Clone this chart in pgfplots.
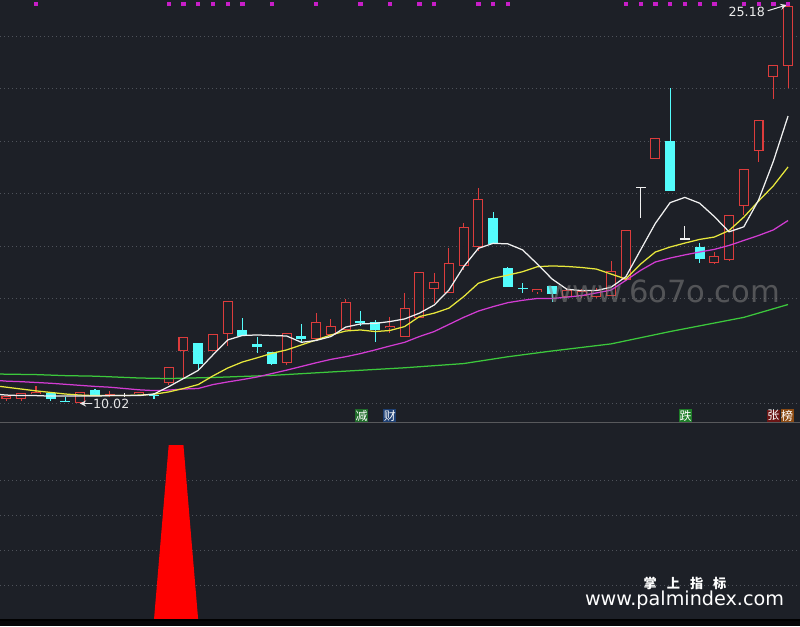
\documentclass[border=0pt]{standalone}
\usepackage{graphicx}
\usepackage{pgfplots}
\pgfplotsset{compat=1.18}
\usepackage{pgfplotstable}
\usepackage{fontspec}
\setmainfont{DejaVu Sans}
\newfontfamily\cjk{Noto Sans CJK SC}

\definecolor{bg}{HTML}{1D2027}
\definecolor{gridc}{HTML}{4E525A}
\definecolor{upc}{HTML}{DC3C3C}
\definecolor{dnc}{HTML}{54FCFC}
\definecolor{ma5}{HTML}{F0F0F0}
\definecolor{ma10}{HTML}{E8E83C}
\definecolor{ma20}{HTML}{D23CD2}
\definecolor{ma60}{HTML}{3CC83C}
\definecolor{dotc}{HTML}{C81EC8}

% up candles (red, hollow)
\pgfplotstableread{
i o h l c
0 10.20 10.31 10.13 10.31
1 10.18 10.42 10.11 10.41
2 10.38 10.69 10.38 10.46
5 10.05 10.45 10.02 10.45
7 10.29 10.50 10.28 10.38
9 10.37 10.46 10.37 10.46
11 10.79 11.40 10.74 11.40
12 12.01 12.54 10.98 12.54
14 12.01 12.66 12.01 12.66
15 12.66 13.92 12.22 13.92
19 11.55 12.69 11.47 12.69
21 12.49 13.46 12.49 13.11
22 12.62 13.24 12.62 12.97
23 12.82 14.00 12.82 13.87
26 12.88 13.33 12.72 12.98
27 12.54 14.22 12.54 13.65
28 13.27 15.02 13.27 15.02
29 14.37 14.98 13.84 14.64
30 14.22 15.93 14.22 15.36
31 15.27 16.88 15.11 16.75
32 15.97 18.24 15.83 17.80
36 14.26 14.38 14.19 14.38
38 14.08 14.42 14.04 14.34
39 14.11 14.38 14.04 14.31
40 14.08 14.42 14.04 14.34
41 14.13 15.45 14.13 15.08
42 14.72 16.62 14.72 16.62
44 19.32 20.12 19.32 20.12
48 15.38 15.78 15.33 15.65
49 15.49 17.20 15.46 17.20
50 17.55 18.95 17.20 18.95
51 19.65 20.82 19.23 20.82
52 22.45 22.91 21.63 22.91
53 22.89 25.18 22.03 25.18
}\upt

% down candles (cyan, filled)
\pgfplotstableread{
i o h l c
3 10.41 10.43 10.13 10.18
6 10.53 10.58 10.31 10.31
13 12.32 12.32 11.30 11.54
16 12.82 13.27 12.60 12.60
17 12.29 12.56 11.93 12.18
18 11.97 11.97 11.50 11.54
20 12.60 13.04 12.31 12.49
25 13.14 13.20 12.37 12.82
33 17.07 17.30 16.10 16.10
34 15.17 15.23 14.47 14.47
37 14.50 14.50 13.90 14.19
45 20.02 22.03 18.13 18.13
47 15.97 16.15 15.38 15.52
}\dnt

% cyan doji
\pgfplotstableread{
i o h l c
4 10.11 10.26 10.11 10.11
10 10.34 10.43 10.18 10.34
24 13.14 13.54 12.98 13.14
35 14.41 14.60 14.22 14.41
}\dct

% white doji
\pgfplotstableread{
i o h l c
8 10.34 10.43 10.27 10.34
43 18.26 18.28 17.07 18.26
46 16.29 16.79 16.27 16.29
}\wht

\pgfplotstableread{
i v
-0.44 10.36
0 10.34
1 10.32
2 10.32
3 10.30
4 10.30
5 10.30
6 10.30
7 10.32
8 10.32
9 10.32
10 10.38
11 10.66
12 10.97
13 11.28
14 11.87
15 12.44
16 12.61
17 12.63
18 12.61
19 12.59
20 12.35
21 12.42
22 12.57
23 12.93
24 13.05
25 13.07
26 13.14
27 13.24
28 13.46
29 13.77
30 14.34
31 15.23
32 15.93
33 16.12
34 16.10
35 15.87
36 15.33
37 14.76
38 14.37
39 14.32
40 14.32
41 14.45
42 14.85
43 15.87
44 16.88
45 17.67
46 17.87
47 17.65
48 17.14
49 16.56
50 16.75
51 17.77
52 19.24
53 20.97
}\mafive

\pgfplotstableread{
i v
-0.44 10.67
0 10.64
1 10.57
2 10.50
3 10.44
4 10.38
5 10.34
6 10.32
7 10.32
8 10.32
9 10.34
10 10.37
11 10.46
12 10.59
13 10.74
14 11.07
15 11.37
16 11.60
17 11.76
18 11.93
19 12.06
20 12.25
21 12.44
22 12.63
23 12.78
24 12.82
25 12.76
26 12.80
27 12.95
28 13.33
29 13.46
30 13.65
31 14.09
32 14.60
33 14.79
34 14.91
35 15.04
36 15.23
37 15.26
38 15.24
39 15.20
40 15.14
41 14.95
42 14.76
43 15.33
44 15.79
45 15.98
46 16.13
47 16.27
48 16.36
49 16.61
50 17.12
51 17.73
52 18.31
53 19.03
}\maten

\pgfplotstableread{
i v
-0.44 10.89
0 10.87
1 10.85
2 10.82
3 10.79
4 10.75
5 10.71
6 10.67
7 10.64
8 10.59
9 10.54
10 10.51
11 10.53
12 10.57
13 10.59
14 10.74
15 10.84
16 10.93
17 11.03
18 11.16
19 11.29
20 11.43
21 11.57
22 11.70
23 11.80
24 11.92
25 12.06
26 12.21
27 12.35
28 12.57
29 12.76
30 13.03
31 13.30
32 13.54
33 13.71
34 13.86
35 13.95
36 14.02
37 14.02
38 14.07
39 14.13
40 14.23
41 14.34
42 14.71
43 15.09
44 15.41
45 15.56
46 15.68
47 15.79
48 15.89
49 16.04
50 16.23
51 16.42
52 16.63
53 16.99
}\matwenty

\pgfplotstableread{
i v
-0.44 11.14
2 11.12
4 11.08
6 11.06
9 10.99
11 10.97
14 11.01
18 11.09
22 11.22
27 11.38
31 11.54
34 11.80
37 12.02
41 12.29
45 12.76
50 13.30
53 13.79
}\masixty

\pgfplotstableread{
i s
2 25.257
11 25.257
12 25.257
13 25.257
14 25.257
15 25.257
16 25.257
18 25.257
21 25.257
24 25.257
26 25.257
28 25.257
29 25.257
32 25.257
33 25.257
34 25.257
42 25.257
43 25.257
44 25.257
45 25.257
46 25.257
47 25.257
48 25.257
50 25.257
51 25.257
52 25.257
53 25.257
}\sigtop

\pgfplotstableread{
i v
0 0
10 0
11 5
12 5
13 0
53 0
}\sigbot

\pgfplotsset{
  nomark/.style={only marks, mark=*, mark size=0pt,
    mark options={draw=none, fill=none}, forget plot},
  wick/.style={nomark,
    error bars/.cd, y dir=both, y explicit, error mark=none,
    error bar style={draw=#1, line width=0.022cm}},
  body/.style={nomark,
    error bars/.cd, y dir=both, y explicit, error mark=none,
    error bar style={draw=#1, line width=0.2cm}},
  inner/.style={nomark,
    error bars/.cd, y dir=both, y explicit, error mark=none,
    error bar style={draw=bg, line width=0.156cm}},
  panel/.style={scale only axis, width=16cm, xmin=-0.44, xmax=53.81,
    axis line style={draw=none}, xtick=\empty, yticklabels={},
    major tick length=0pt, ymajorgrids,
    grid style={gridc, line width=0.02cm, dash pattern=on 0.02cm off 0.06cm}},
}

\begin{document}
\begin{tikzpicture}
\fill[bg] (0,0) rectangle (16cm,12.52cm);
\fill[black!80!bg] (0,0) rectangle (16cm,0.12cm);

\begin{axis}[panel, at={(0,4.08cm)}, anchor=south west, height=8.44cm,
  ymin=9.314, ymax=25.39, ytick={10,12,...,24}, clip=false]

% wicks
\addplot[wick=upc] table[x=i, y expr={(\thisrow{h}+\thisrow{l})/2}, y error expr={(\thisrow{h}-\thisrow{l})/2}] \upt;
\addplot[wick=dnc] table[x=i, y expr={(\thisrow{h}+\thisrow{l})/2}, y error expr={(\thisrow{h}-\thisrow{l})/2}] \dnt;
\addplot[wick=dnc] table[x=i, y expr={(\thisrow{h}+\thisrow{l})/2}, y error expr={(\thisrow{h}-\thisrow{l})/2}] \dct;
\addplot[wick=ma5] table[x=i, y expr={(\thisrow{h}+\thisrow{l})/2}, y error expr={(\thisrow{h}-\thisrow{l})/2}] \wht;
% bodies
\addplot[body=upc] table[x=i, y expr={(\thisrow{o}+\thisrow{c})/2}, y error expr={max(abs(\thisrow{c}-\thisrow{o})/2,0.019)}] \upt;
\addplot[inner] table[x=i, y expr={(\thisrow{o}+\thisrow{c})/2}, y error expr={max(abs(\thisrow{c}-\thisrow{o})/2-0.038,0)}] \upt;
\addplot[body=dnc] table[x=i, y expr={(\thisrow{o}+\thisrow{c})/2}, y error expr={max(abs(\thisrow{c}-\thisrow{o})/2,0.019)}] \dnt;
\addplot[body=dnc] table[x=i, y expr={(\thisrow{o}+\thisrow{c})/2}, y error expr={0.019}] \dct;
\addplot[body=ma5] table[x=i, y expr={(\thisrow{o}+\thisrow{c})/2}, y error expr={0.019}] \wht;

% moving averages
\addplot[ma60, line width=0.025cm] table[x=i, y=v] \masixty;
\addplot[ma20, line width=0.025cm] table[x=i, y=v] \matwenty;
\addplot[ma10, line width=0.025cm] table[x=i, y=v] \maten;
\addplot[ma5, line width=0.025cm] table[x=i, y=v] \mafive;

% top signal dots
\addplot[only marks, mark=square*, mark size=0.032cm, dotc] table[x=i, y=s] \sigtop;

% price notes
\node[anchor=east, text=white!85!gray, font=\fontsize{7.2}{8}\selectfont, inner sep=0pt] at (axis cs:51.45,24.93) {25.18};
\draw[->, white!85!gray, line width=0.02cm, >=stealth] (axis cs:51.62,24.98) -- (axis cs:52.9,25.2);
\draw[->, white!80!gray, line width=0.02cm, >=stealth] (axis cs:5.8,10.02) -- (axis cs:4.98,10.02);
\node[anchor=west, text=white!80!gray, font=\fontsize{7.2}{8}\selectfont, inner sep=0pt] at (axis cs:5.85,10.0) {10.02};

% event labels
\node[fill={rgb,255:red,31;green,107;blue,42}, text=white, inner sep=0.012cm, font=\cjk\fontsize{6.8}{6.8}\selectfont] at (axis cs:24.08,9.56) {减};
\node[fill={rgb,255:red,29;green,63;blue,115}, text=white, inner sep=0.012cm, font=\cjk\fontsize{6.8}{6.8}\selectfont] at (axis cs:26.0,9.56) {财};
\node[fill={rgb,255:red,30;green,125;blue,40}, text=white, inner sep=0.012cm, font=\cjk\fontsize{6.8}{6.8}\selectfont] at (axis cs:46.05,9.56) {跌};
\node[fill={rgb,255:red,107;green,21;blue,21}, text=white, inner sep=0.012cm, font=\cjk\fontsize{6.8}{6.8}\selectfont] (zh) at (axis cs:52.0,9.56) {张};
\node[fill={rgb,255:red,139;green,74;blue,18}, text=white, inner sep=0.012cm, font=\cjk\fontsize{6.8}{6.8}\selectfont, anchor=west] at (zh.east) {榜};

% watermark
\node[anchor=west, inner sep=0pt, text=gray, opacity=0.55] at (axis cs:36.64,14.3) {\resizebox{4.66cm}{!}{www.6o7o.com}};
\end{axis}

\begin{axis}[panel, at={(0,0.12cm)}, anchor=south west, height=3.94cm,
  ymin=0, ymax=5.629, ytick={1,2,3,4}]
\addplot[fill=red, draw=none] table[x=i, y=v] \sigbot \closedcycle;
\end{axis}

\draw[gray!60!bg, line width=0.03cm] (0,4.07cm) -- (16cm,4.07cm);
\draw[black, line width=0.04cm] (0,0.12cm) -- (16cm,0.12cm);

\node[text=white, font=\cjk\bfseries\fontsize{7.5}{8}\selectfont] at (13.7cm,0.86cm) {掌\hspace{0.2cm}上\hspace{0.2cm}指\hspace{0.2cm}标};
\node[text=white, inner sep=0pt] at (13.69cm,0.52cm) {\resizebox{3.98cm}{!}{www.palmindex.com}};

\pgfresetboundingbox
\path[use as bounding box] (0,0) rectangle (16cm,12.52cm);
\end{tikzpicture}
\end{document}
